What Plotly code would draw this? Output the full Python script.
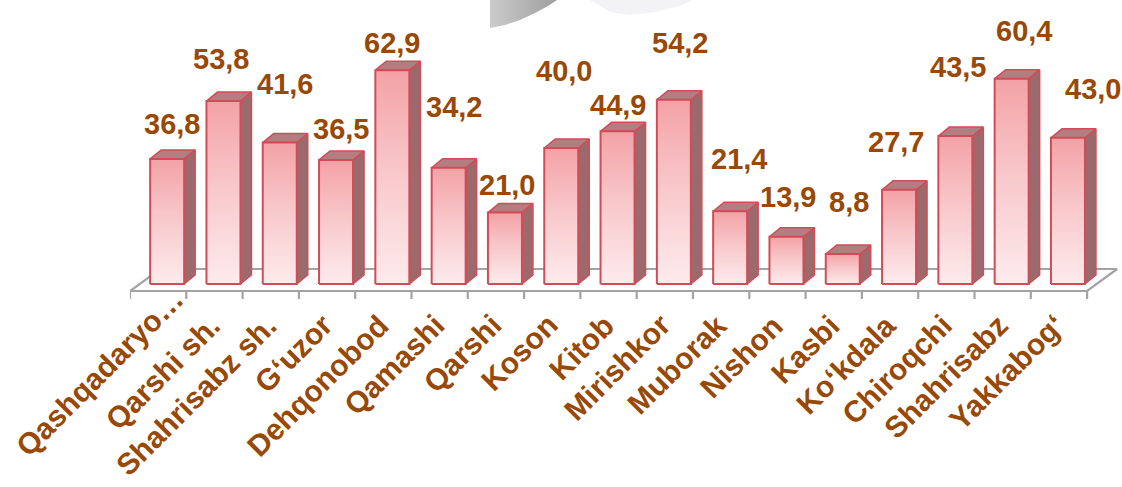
import plotly.graph_objects as go

# ---------------- data ----------------
categories = ["Qashqadaryo…", "Qarshi sh.", "Shahrisabz sh.", "G‘uzor", "Dehqonobod",
              "Qamashi", "Qarshi", "Koson", "Kitob", "Mirishkor", "Muborak", "Nishon",
              "Kasbi", "Ko‘kdala", "Chiroqchi", "Shahrisabz", "Yakkabog‘"]
values = [36.8, 53.8, 41.6, 36.5, 62.9, 34.2, 21.0, 40.0, 44.9, 54.2,
          21.4, 13.9, 8.8, 27.7, 43.5, 60.4, 43.0]

# value-label placement offsets (pixels, relative to the top-centre of each bar's front face)
label_dx_px = [5, -2, 5, 5, 0, 5, 2, 3, 0, 6, 9, 2, 6, -3, 3, 12, 25]
label_dy_px = [35, 42, 59, 31, 27, 61, 28, 77, 26, 57, 52, 40, 52, 48, 69, 48, 49]
# category-label nudges (pixels)
cat_nudge_dx = [20, 0, 0, 0, 0, 0, 0, 0, 0, 0, 0, 0, 0, 0, 0, 0, 0]
cat_nudge_dy = [26, 0, 0, 0, 0, 0, 0, 0, 0, 0, 0, 0, 0, 0, 0, 0, 0]

# ---------------- geometry / style ----------------
W, H = 1122, 487
L_M, R_M, T_M, B_M = 130, 0, 0, 186
PLOT_H = H - T_M - B_M            # 301
CAT_PX = 56.3                      # pixels per category
Y_PX = 3.4                         # pixels per value unit
ZERO_PY = 284                      # pixel row of value 0 (bar bottoms)

x_range = [-0.5, -0.5 + (W - L_M - R_M) / CAT_PX]
y_range = [-(PLOT_H - ZERO_PY) / Y_PX, ZERO_PY / Y_PX]


def dx(px):
    return px / CAT_PX


def dy(px):
    return px / Y_PX


def xd(px_abs):
    return -0.5 + (px_abs - L_M) / CAT_PX


def yd(py_abs):
    return (ZERO_PY - py_abs) / Y_PX


def ypaper(py_abs):
    return (T_M + PLOT_H - py_abs) / PLOT_H


TEXT = "#984807"
FRONT_TOP = "#f3a2a6"
FRONT_BOTTOM = "#fdebed"
SIDE = "#9c6a6d"
TOPC = "#b27e81"
EDGE = "#d24c57"
FLOOR = "#a3a3a3"
FONT = "Liberation Sans"

BAR_SHIFT = dx(9)        # front face shifted right (3D depth position)
BAR_W = dx(34)
DEP_X, DEP_Y = dx(11), dy(9)

fig = go.Figure()

# ---- floor (parallelogram) + tick marks ----
n = len(categories)
fx, fy = [], []
front_y = yd(291)
back_y = yd(269)
x0, x1 = -0.5, n - 0.5
fx += [x0, x1, x1 + dx(30), x0 + dx(30), x0, None]
fy += [front_y, front_y, back_y, back_y, front_y, None]
for b in range(n + 1):
    xb = -0.5 + b
    fx += [xb, xb, None]
    fy += [front_y, yd(299), None]
fig.add_trace(go.Scatter(x=fx, y=fy, mode="lines",
                         line=dict(color=FLOOR, width=2.2),
                         hoverinfo="skip", showlegend=False))

# ---- side faces ----
sx, sy, tx, ty = [], [], [], []
for i, v in enumerate(values):
    xl = i + BAR_SHIFT - BAR_W / 2
    xr = i + BAR_SHIFT + BAR_W / 2
    sx += [xr, xr + DEP_X, xr + DEP_X, xr, xr, None]
    sy += [0, DEP_Y, v + DEP_Y, v, 0, None]
    tx += [xl, xr, xr + DEP_X, xl + DEP_X, xl, None]
    ty += [v, v, v + DEP_Y, v + DEP_Y, v, None]

fig.add_trace(go.Scatter(x=sx, y=sy, mode="lines", fill="toself", fillcolor=SIDE,
                         line=dict(color=EDGE, width=1.5),
                         hoverinfo="skip", showlegend=False))
fig.add_trace(go.Scatter(x=tx, y=ty, mode="lines", fill="toself", fillcolor=TOPC,
                         line=dict(color=EDGE, width=1.5),
                         hoverinfo="skip", showlegend=False))

# ---- front faces with vertical gradient ----
for i, v in enumerate(values):
    xl = i + BAR_SHIFT - BAR_W / 2
    xr = i + BAR_SHIFT + BAR_W / 2
    fig.add_trace(go.Scatter(
        x=[xl, xr, xr, xl, xl], y=[0, 0, v, v, 0],
        mode="lines", fill="toself",
        fillgradient=dict(type="vertical",
                          colorscale=[[0, FRONT_BOTTOM], [0.55, "#f8c6c9"], [1, FRONT_TOP]]),
        line=dict(color=EDGE, width=2),
        name=categories[i], hovertemplate="%{text}<extra></extra>",
        text=[f"{categories[i]}: {v}"] * 5, showlegend=False))

# ---- decorative grey swoosh at the top ----
sw_px = [(490, 0), (490, 28), (505, 25), (520, 20), (535, 13), (548, 6), (557, 0), (490, 0)]
fig.add_trace(go.Scatter(
    x=[xd(p[0]) for p in sw_px], y=[yd(p[1]) for p in sw_px],
    mode="lines", fill="toself", line=dict(width=0, color="rgba(0,0,0,0)"),
    fillgradient=dict(type="horizontal", colorscale=[[0, "#cbcbcb"], [1, "#9f9f9f"]]),
    hoverinfo="skip", showlegend=False))
sw2_px = [(590, 0), (693, 0), (680, 6), (655, 12), (630, 15), (610, 12), (590, 0)]
fig.add_trace(go.Scatter(
    x=[xd(p[0]) for p in sw2_px], y=[yd(p[1]) for p in sw2_px],
    mode="lines", fill="toself", line=dict(width=0, color="rgba(0,0,0,0)"),
    fillcolor="#f3f3f6", hoverinfo="skip", showlegend=False))

# ---- value labels ----
for i, v in enumerate(values):
    fig.add_annotation(
        x=i + BAR_SHIFT, y=v, xref="x", yref="y",
        text=f"{v:.1f}".replace(".", ","),
        showarrow=False, xanchor="center", yanchor="middle",
        xshift=label_dx_px[i], yshift=label_dy_px[i],
        font=dict(family=FONT, size=29, color=TEXT, weight="bold"))

# ---- category labels (rotated, end-anchored under each category) ----
for i, c in enumerate(categories):
    fig.add_annotation(
        x=i, y=ypaper(307), xref="x", yref="paper",
        text=c, textangle=-45, showarrow=False,
        xanchor="right", yanchor="top", borderpad=0,
        xshift=13 + cat_nudge_dx[i], yshift=cat_nudge_dy[i],
        font=dict(family=FONT, size=30, color=TEXT, weight="bold"))

fig.update_layout(
    width=W, height=H,
    margin=dict(l=L_M, r=R_M, t=T_M, b=B_M, pad=0, autoexpand=False),
    paper_bgcolor="white", plot_bgcolor="white",
    showlegend=False,
    xaxis=dict(range=x_range, showgrid=False, zeroline=False, showline=False,
               automargin=False, showticklabels=False, ticks="",
               fixedrange=True),
    yaxis=dict(range=y_range, visible=False, showgrid=False, zeroline=False,
               automargin=False, fixedrange=True),
)

fig.write_html("out.html", config={"displayModeBar": False},
               post_script="document.body.style.margin='0';document.body.style.padding='0';")
